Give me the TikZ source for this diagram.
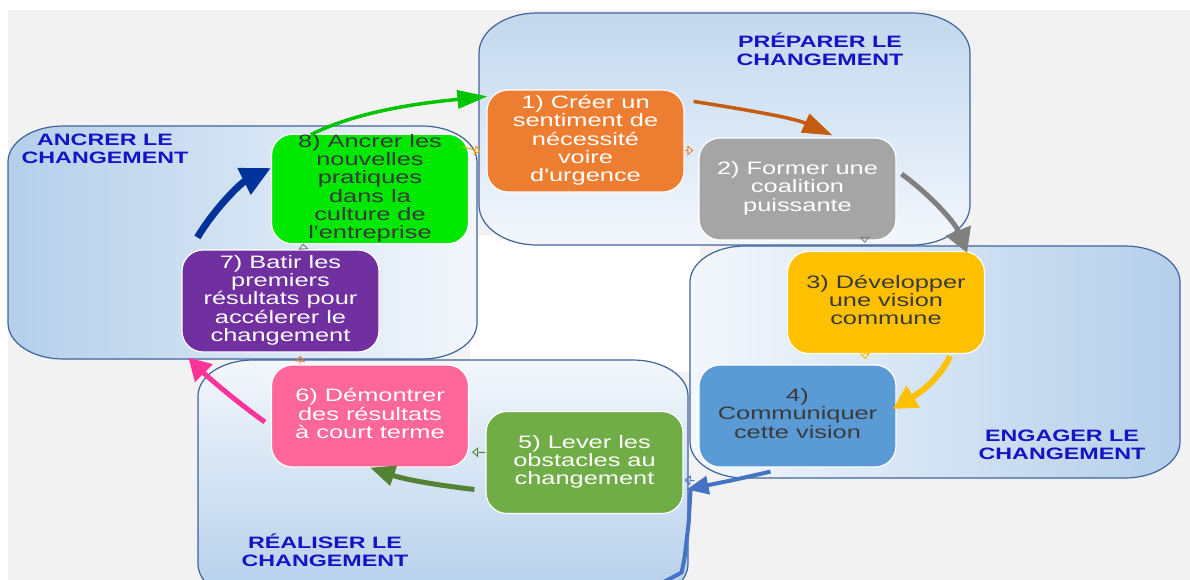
\documentclass[tikz,border=0pt]{standalone}
\usepackage{fontspec}
\setmainfont{Liberation Sans}
\usepackage{graphicx}
\usetikzlibrary{arrows.meta,calc}

\definecolor{bgGray}{HTML}{F2F2F2}
\definecolor{frameBlue}{HTML}{41639C}
\definecolor{phBlue}{HTML}{B4CFEA}
\definecolor{phLight}{HTML}{F3F7FC}
\definecolor{phTop}{HTML}{C2D8EE}
\definecolor{labelBlue}{HTML}{1414C4}
\definecolor{cOrange}{HTML}{ED7D31}
\definecolor{cGray}{HTML}{A5A5A5}
\definecolor{cGold}{HTML}{FFC000}
\definecolor{cBlue}{HTML}{5B9BD5}
\definecolor{cGreen}{HTML}{70AD47}
\definecolor{cPink}{HTML}{FF6699}
\definecolor{cPurple}{HTML}{7030A0}
\definecolor{cLime}{HTML}{00E800}
\definecolor{aGreen}{HTML}{00C400}
\definecolor{aOrange}{HTML}{C55A11}
\definecolor{aGray}{HTML}{808080}
\definecolor{aBlue}{HTML}{4472C4}
\definecolor{aDkGreen}{HTML}{548235}
\definecolor{aPink}{HTML}{FF3399}
\definecolor{aNavy}{HTML}{00339A}
\definecolor{linkYel}{HTML}{F5A300}
\definecolor{txtDark}{HTML}{3A3A3A}

% widened text block, lines centred
\newcommand\stext[1]{\scalebox{1.41}[1]{\begin{tabular}{@{}c@{}}#1\end{tabular}}}

% phase frame with elliptical corners: x1 y1 x2 y2 rx ry options
\newcommand\phasebox[7]{%
  \path[#7] ({#1+#5},#2) -- ({#3-#5},#2)
    .. controls ({#3-0.448*#5},#2) and (#3,{#2+0.448*#6}) .. (#3,{#2+#6})
    -- (#3,{#4-#6})
    .. controls (#3,{#4-0.448*#6}) and ({#3-0.448*#5},#4) .. ({#3-#5},#4)
    -- ({#1+#5},#4)
    .. controls ({#1+0.448*#5},#4) and (#1,{#4-0.448*#6}) .. (#1,{#4-#6})
    -- (#1,{#2+#6})
    .. controls (#1,{#2+0.448*#6}) and ({#1+0.448*#5},#2) .. ({#1+#5},#2) -- cycle;}

\tikzset{
  frame/.style={draw=frameBlue, line width=1.2pt},
  stepbox/.style={rounded corners=21pt, draw=white, line width=1.2pt,
    minimum width=197pt, minimum height=102pt, inner sep=0pt,
    font=\fontsize{18}{17.4}\selectfont},
  phaselabel/.style={text=labelBlue, inner sep=0pt,
    font=\bfseries\fontsize{16.5}{18}\selectfont},
  link/.style={line width=0.9pt, -{Triangle[open,length=6pt,width=10pt]}},
}

\begin{document}
\begin{tikzpicture}[x=1pt,y=-1pt]
\useasboundingbox (0,0) rectangle (1190,580);

% backdrop
\fill[white] (0,0) rectangle (1190,580);
\fill[bgGray] (8,10) rectangle (1190,580);
\fill[white] (470,235) rectangle (700,372);

% phase frames
\phasebox{479}{13}{970}{245}{58}{40}{frame, top color=phTop, bottom color=phLight}
\phasebox{8}{126}{477}{359}{55}{36}{frame, left color=phBlue, right color=phLight}
\phasebox{690}{246}{1180}{478}{55}{36}{frame, left color=phLight, right color=phBlue}
\phasebox{198}{360}{688}{600}{55}{36}{frame, top color=phLight, bottom color=phBlue}

% phase titles
\node[phaselabel] (lPrep) at (820,52)  {\stext{PRÉPARER LE\\CHANGEMENT}};
\node[phaselabel] (lAnc)  at (105,151) {\stext{ANCRER LE\\CHANGEMENT}};
\node[phaselabel] (lEng)  at (1062,447){\stext{ENGAGER LE\\CHANGEMENT}};
\node[phaselabel] (lReal) at (325,553) {\stext{RÉALISER LE\\CHANGEMENT}};

% the eight steps
\node[stepbox, fill=cOrange, text=white] (s1) at (585.5,141)
  {\stext{1) Créer un\\sentiment de\\nécessité\\voire\\d\textquotesingle urgence}};
\node[stepbox, fill=cGray, text=white] (s2) at (797.5,189)
  {\stext{2) Former une\\coalition\\puissante}};
\node[stepbox, fill=cGold, text=txtDark] (s3) at (886,302.5)
  {\stext{3) Développer\\une vision\\commune}};
\node[stepbox, fill=cBlue, text=txtDark] (s4) at (797.5,416)
  {\stext{4)\\Communiquer\\cette vision}};
\node[stepbox, fill=cGreen, text=white] (s5) at (584.5,462.5)
  {\stext{5) Lever les\\obstacles au\\changement}};
\node[stepbox, fill=cPink, text=white] (s6) at (370,416)
  {\stext{6) Démontrer\\des résultats\\à court terme}};
\node[stepbox, fill=cPurple, text=white] (s7) at (280.5,301)
  {\stext{7) Batir les\\premiers\\résultats pour\\accélerer le\\changement}};
\node[stepbox, fill=cLime, text=txtDark] (s8) at (370,189)
  {\stext{8) Ancrer les\\nouvelles\\pratiques\\dans la\\culture de\\l\textquotesingle entreprise}};

% small connectors between neighbouring steps
\draw[link, linkYel]  ($(s8.north east)+(-7,13)$) -- ($(s1.north west)+(-6,62)$);
\draw[link, cOrange]  ($(s1.north east)+(0,61)$) -- ($(s2.north west)+(-5,13)$);
\draw[link, aGray]    ($(s2.south east)+(-32,-3)$) -- ($(s3.north west)+(78,-8)$);
\draw[link, cGold]    ($(s3.south west)+(78,-1)$) -- ($(s4.north west)+(167,-5)$);
\draw[link, aBlue]    ($(s4.south west)+(-4,13)$) -- ($(s5.north east)+(1,69)$);
\draw[link, aDkGreen] ($(s5.west)+(0,-10)$) -- ($(s6.east)+(3,36)$);
\draw[link, cOrange]  ($(s6.north west)+(29,0)$) -- ($(s7.south west)+(119,3)$);
\draw[link, aGray]    ($(s7.north west)+(122,0)$) -- ($(s8.south west)+(32,-1)$);

% large curved arrows of the cycle
\draw[aGreen, line width=3.5pt, -{Triangle[length=30pt,width=18pt]}]
  ($(s8.north west)+(40,1)$) .. controls +(50,-25) and +(-60,6) .. ($(s1.north west)+(1,7)$);
\draw[aOrange, line width=3.5pt, -{Triangle[length=30pt,width=20pt]}]
  ($(s1.north east)+(9,12)$) .. controls +(50,8) and +(-40,-18) .. ($(s2.north)+(35,-2)$);
\draw[aGray, line width=5pt, -{Triangle[length=24pt,width=26pt]}]
  ($(s2.east)+(5,-15)$) .. controls +(30,22) and +(-12,-30) .. ($(s3.north east)+(-18,2)$);
\draw[cGold, line width=6pt, -{Triangle[length=24pt,width=24pt]}]
  ($(s3.south east)+(-35,2)$) .. controls +(-12,25) and +(25,-15) .. ($(s4.east)+(-4,-7)$);
\draw[aBlue, line width=4pt, -{Triangle[length=22pt,width=18pt]}]
  ($(s4.south)+(-27,4)$) .. controls +(-35,8) .. ($(s5.east)+(3,27)$);
\coordinate (bj) at ($(s5.east)+(7,27)$);
\draw[aBlue, line width=4pt, line join=round] (bj) -- ++(-2,34) -- ++(-4,34) -- ++(-3,15) -- ++(-17,9);
\draw[aDkGreen, line width=5pt, -{Triangle[length=25pt,width=20pt]}]
  ($(s5.west)+(-11,27)$) .. controls +(-35,-4) and +(35,12) .. (s6.south);
\draw[aPink, line width=5pt, -{Triangle[length=22pt,width=24pt]}]
  ($(s6.west)+(-6,6)$) .. controls +(-28,-20) and +(20,20) .. ($(s7.south west)+(7,5)$);
\draw[aNavy, line width=7pt, -{Triangle[length=30pt,width=28pt]}]
  ($(s7.north west)+(16,-12)$) .. controls +(18,-30) and +(-30,15) .. ($(s8.west)+(0,-21)$);
\end{tikzpicture}
\end{document}
